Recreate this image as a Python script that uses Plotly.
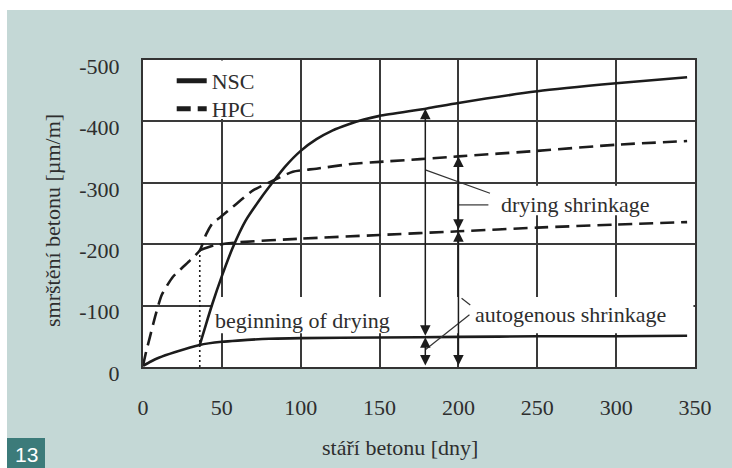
import numpy as np
import plotly.graph_objects as go

# --- data: concrete shrinkage vs. age -------------------------------------
# NSC (normal strength concrete)
nsc_auto_day = [0, 5, 10, 20, 36, 50, 60, 80, 100, 150, 200, 250, 300, 345]
nsc_auto = [-2, -9, -15, -24, -36, -41, -43, -46, -47, -48, -49, -50, -50, -51]

nsc_total_day = [36, 40, 44, 50, 57, 65, 75, 82, 90, 100, 110, 120, 130, 140,
                 150, 180, 200, 250, 300, 345]
nsc_total = [-36, -70, -103, -148, -195, -238, -276, -300, -326, -352, -371,
             -385, -395, -403, -409, -421, -430, -449, -462, -472]

# HPC (high performance concrete)
hpc_early_day = [0, 2, 4, 8, 12, 19, 25, 30, 36]
hpc_early = [-2, -25, -45, -85, -118, -147, -162, -174, -190]

hpc_total_day = [36, 40, 44, 49, 57, 70, 82, 95, 110, 133, 150, 200, 250, 300, 345]
hpc_total = [-190, -216, -234, -244, -261, -288, -303, -318, -323, -331, -334,
             -343, -352, -362, -368]

hpc_auto_day = [36, 45, 60, 100, 150, 200, 250, 300, 345]
hpc_auto = [-190, -198, -203, -209, -215, -221, -227, -232, -236]

drying_start = 36          # day when drying begins
nsc_arrow_day = 179        # where the NSC components are dimensioned
hpc_arrow_day = 200        # where the HPC components are dimensioned

x_ticks = [0, 50, 100, 150, 200, 250, 300, 350]
y_ticks = [0, -100, -200, -300, -400, -500]
y_tick_text = ["0", "-100", "-200", "-300", "-400", "-500"]

# --- style ---------------------------------------------------------------
SERIF = "Liberation Serif"
INK = "#1c1c1c"
TXT = "#2e2e2e"
GRID = "#3a3a3a"
BG = "#c4d8d6"
FS = 22

fig = go.Figure()

solid = dict(color=INK, width=2.6, shape="spline", smoothing=0.6)
dashed = dict(color=INK, width=2.6, dash="14px,7px", shape="spline", smoothing=0.6)

fig.add_trace(go.Scatter(x=nsc_auto_day, y=nsc_auto, mode="lines", line=solid,
                         name="NSC", legend="legend"))
fig.add_trace(go.Scatter(x=nsc_total_day, y=nsc_total, mode="lines", line=solid,
                         name="NSC", showlegend=False))
fig.add_trace(go.Scatter(x=hpc_early_day + hpc_total_day[1:],
                         y=hpc_early + hpc_total[1:], mode="lines", line=dashed,
                         name="HPC", legend="legend2"))
fig.add_trace(go.Scatter(x=hpc_auto_day, y=hpc_auto, mode="lines", line=dashed,
                         name="HPC", showlegend=False))

# dotted marker of the start of drying
hpc_at_start = float(np.interp(drying_start, hpc_early_day, hpc_early))
fig.add_trace(go.Scatter(x=[drying_start, drying_start], y=[0, hpc_at_start],
                         mode="lines", showlegend=False,
                         line=dict(color=INK, width=1.6, dash="2px,3px")))

# --- dimension arrows ----------------------------------------------------
nsc_a = float(np.interp(nsc_arrow_day, nsc_auto_day, nsc_auto))
nsc_t = float(np.interp(nsc_arrow_day, nsc_total_day, nsc_total))
hpc_a = float(np.interp(hpc_arrow_day, hpc_auto_day, hpc_auto))
hpc_t = float(np.interp(hpc_arrow_day, hpc_total_day, hpc_total))

annotations = []


def dim_arrow(xv, y0, y1):
    annotations.append(dict(
        x=xv, y=y1, ax=xv, ay=y0, xref="x", yref="y", axref="x", ayref="y",
        text="", showarrow=True, arrowhead=2, startarrowhead=2,
        arrowside="end+start", arrowsize=1.4, startarrowsize=1.4,
        arrowwidth=1.5, arrowcolor=INK, standoff=0, startstandoff=0))


dim_arrow(nsc_arrow_day, nsc_a, nsc_t)
dim_arrow(nsc_arrow_day, 0, nsc_a)
dim_arrow(hpc_arrow_day, hpc_a, hpc_t)
dim_arrow(hpc_arrow_day, 0, hpc_a)

# --- labels --------------------------------------------------------------
lab = dict(xref="x", yref="y", showarrow=False, xanchor="left", yanchor="middle",
           font=dict(family=SERIF, size=FS, color=TXT))
annotations += [
    dict(x=225.5, y=-264, text="drying shrinkage", **lab),
    dict(x=209, y=-85, text="autogenous shrinkage", **lab),
    dict(x=44.5, y=-76, text="beginning of drying", **lab),
]

# axis titles and figure number
mid = dict(xref="paper", yref="paper", showarrow=False, xanchor="center",
           yanchor="middle")
annotations += [
    dict(x=(400 - 143) / 552, y=(367 - 447) / 307, text="stáří betonu [dny]",
         font=dict(family=SERIF, size=FS, color=TXT), **mid),
    dict(x=(52 - 143) / 552, y=(367 - 221) / 307, text="smrštění betonu [µm/m]",
         textangle=-90, font=dict(family=SERIF, size=FS, color=TXT), **mid),
    dict(x=(26 - 143) / 552, y=(367 - 454) / 307, text="13",
         font=dict(family="Liberation Sans", size=21, color="white"), **mid),
]

# --- shapes: frame, gridline gaps behind labels, leaders --------------------
shapes = []
# white border strips (top and left)
shapes.append(dict(type="rect", xref="paper", yref="paper", x0=-0.3, x1=1.1,
                   y0=(367 - 10) / 307, y1=1.25, fillcolor="white",
                   line=dict(width=0), layer="below"))
shapes.append(dict(type="rect", xref="paper", yref="paper", x0=-0.3,
                   x1=(7 - 143) / 552, y0=-0.4, y1=1.25, fillcolor="white",
                   line=dict(width=0), layer="below"))
# figure number box
shapes.append(dict(type="rect", xref="paper", yref="paper",
                   x0=(7 - 143) / 552, x1=(45 - 143) / 552,
                   y0=(367 - 470) / 307, y1=(367 - 438) / 307,
                   fillcolor="#3c7b7a", line=dict(width=0), layer="below"))

# gridline gaps behind legend and labels
for x0, x1, y0, y1 in [(1, 98, -404, -499), (44, 349, -55, -114),
                       (219, 349, -247, -295)]:
    shapes.append(dict(type="rect", xref="x", yref="y", x0=x0, x1=x1, y0=y0,
                       y1=y1, fillcolor="white", line=dict(width=0),
                       layer="between"))

# leader lines from arrows to labels
leader = dict(color="#333333", width=1.2)
for x0, y0, x1, y1 in [(179, -321, 220, -283), (200, -264, 219, -264),
                       (179, -28, 207, -85), (202, -112, 207.5, -101)]:
    shapes.append(dict(type="line", xref="x", yref="y", x0=x0, y0=y0, x1=x1,
                       y1=y1, line=leader, layer="above"))

legend_style = dict(xanchor="left", yanchor="top", bgcolor="rgba(0,0,0,0)",
                    font=dict(family=SERIF, size=FS, color=TXT),
                    itemsizing="constant")

fig.update_layout(
    width=732, height=468,
    margin=dict(l=143, r=37, t=60, b=101),
    paper_bgcolor=BG, plot_bgcolor="white",
    showlegend=True,
    legend=dict(x=0.052, y=(367 - 60) / 307, **legend_style),
    legend2=dict(x=0.052, y=(367 - 88) / 307, **legend_style),
    annotations=annotations, shapes=shapes,
    xaxis=dict(range=[0, 350], tickvals=x_ticks, showgrid=True, gridcolor=GRID,
               gridwidth=1.6, zeroline=False, showline=True, mirror=True,
               linecolor="#333333", linewidth=2, ticks="", ticklabelstandoff=20,
               tickfont=dict(family=SERIF, size=FS, color=TXT)),
    yaxis=dict(range=[0, -500], tickvals=y_ticks, ticktext=y_tick_text,
               showgrid=True, gridcolor=GRID, gridwidth=1.6, zeroline=False,
               showline=True, mirror=True, linecolor="#333333", linewidth=2,
               ticks="", ticklabelstandoff=17, ticklabelshift=-6,
               tickfont=dict(family=SERIF, size=FS, color=TXT)),
)

fig.write_html("out.html")
